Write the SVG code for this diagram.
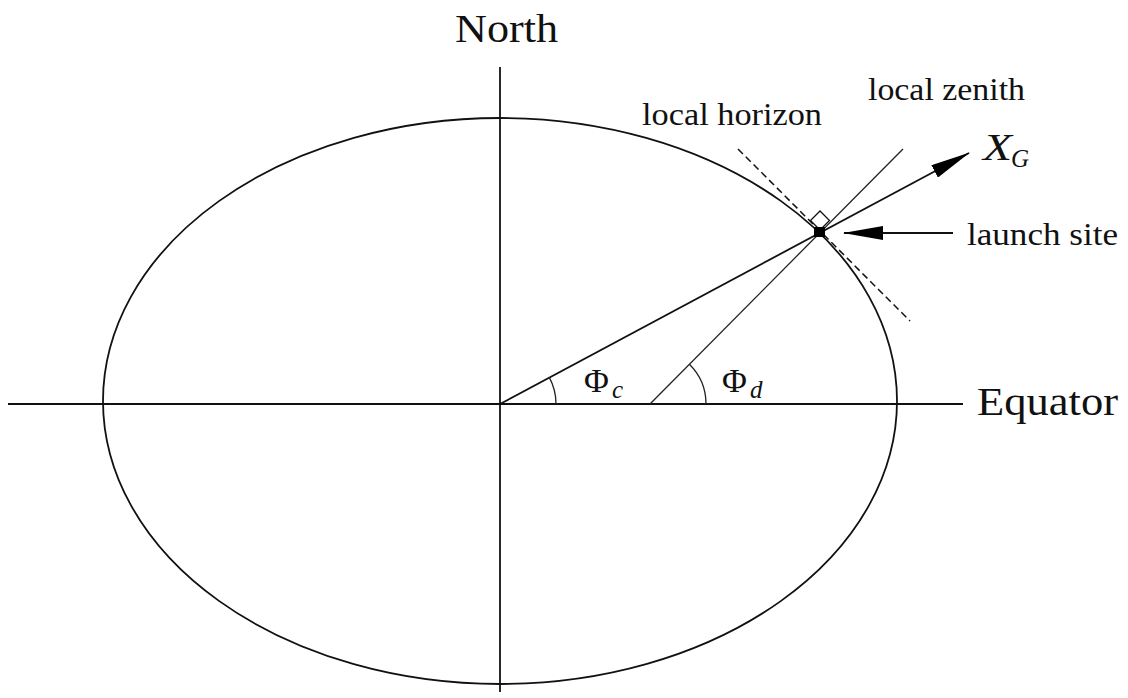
<svg xmlns="http://www.w3.org/2000/svg" width="1128" height="698" viewBox="0 0 1128 698">
<style>
  .ln { stroke:#111; stroke-width:1.8; fill:none; }
  .thin { stroke:#222; stroke-width:1.3; fill:none; }
  .dash { stroke:#111; stroke-width:1.5; fill:none; stroke-dasharray:7 4; }
  .t { font-family:"Liberation Serif","DejaVu Serif",serif; fill:#111; }
  .it { font-style:italic; }
</style>
<defs>
  <marker id="ah" viewBox="0 0 40 14" refX="39" refY="7" markerWidth="40" markerHeight="14" markerUnits="userSpaceOnUse" orient="auto">
    <path d="M0,0 L40,7 L0,14 z" fill="#000"/>
  </marker>
</defs>
<rect width="1128" height="698" fill="#fff"/>

<g id="earth">
  <ellipse cx="500" cy="401" rx="397" ry="283" class="ln"/>
</g>

<g id="axes">
  <line x1="500" y1="67" x2="500" y2="692" class="ln"/>
  <line x1="8" y1="404" x2="963" y2="404" class="ln"/>
</g>

<g id="connectors">
  <line x1="500" y1="404" x2="969" y2="153" class="ln" marker-end="url(#ah)"/>
  <line x1="650" y1="404" x2="903" y2="149" class="thin"/>
  <line x1="738" y1="149" x2="910" y2="321" class="dash"/>
  <line x1="953" y1="233" x2="844" y2="233" class="ln" marker-end="url(#ah)"/>
  <path d="M556,404 A56,56 0 0 0 549.3,377.4" class="thin"/>
  <path d="M706,404 A56,56 0 0 0 689.4,364.3" class="thin"/>
</g>

<g id="launch-site">
  <path d="M820,230 L829.5,220.5 L820,211 L810.5,220.5 Z" fill="#fff" stroke="#111" stroke-width="1.3"/>
  <rect x="814" y="227" width="11" height="10" fill="#000"/>
</g>

<g id="labels">
  <text x="455" y="42" class="t" font-size="40" textLength="103" lengthAdjust="spacingAndGlyphs">North</text>
  <text x="977" y="415" class="t" font-size="40" textLength="141" lengthAdjust="spacingAndGlyphs">Equator</text>
  <text x="642" y="125" class="t" font-size="32" textLength="180" lengthAdjust="spacingAndGlyphs">local horizon</text>
  <text x="868" y="100" class="t" font-size="32" textLength="157" lengthAdjust="spacingAndGlyphs">local zenith</text>
  <text x="967" y="245" class="t" font-size="32" textLength="151" lengthAdjust="spacingAndGlyphs">launch site</text>
  <text x="983" y="160" class="t it" font-size="38" textLength="29" lengthAdjust="spacingAndGlyphs">X</text>
  <text x="1011" y="167" class="t it" font-size="25">G</text>
  <text x="584" y="392" class="t" font-size="34">Φ</text>
  <text x="612" y="398" class="t it" font-size="25">c</text>
  <text x="722" y="392" class="t" font-size="34">Φ</text>
  <text x="750" y="398" class="t it" font-size="25">d</text>
</g>
</svg>
